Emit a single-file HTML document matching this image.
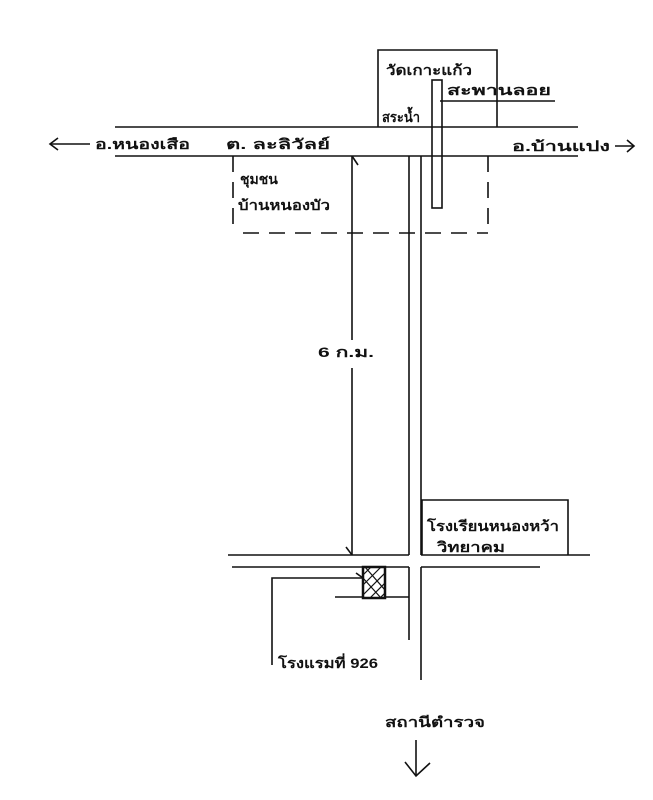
<!DOCTYPE html>
<html><head><meta charset="utf-8"><style>
html,body{margin:0;padding:0;background:#fff;}
svg{display:block;}
text{font-family:"Liberation Sans","Noto Sans CJK SC",sans-serif;fill:#111;font-weight:bold;}
</style></head><body>
<svg width="653" height="800" viewBox="0 0 653 800" xmlns="http://www.w3.org/2000/svg">
<g stroke="#111" stroke-width="1.6" fill="none">
<line x1="115" y1="127" x2="578" y2="127"/>
<line x1="115" y1="156" x2="578" y2="156"/>
<line x1="50" y1="144" x2="90" y2="144"/>
<polyline points="58,138 50,144 58,150"/>
<line x1="615" y1="146" x2="634" y2="146"/>
<polyline points="627,140 634,146 627,152"/>
<polyline points="378,127 378,50 497,50 497,127"/>
<line x1="440" y1="101" x2="555" y2="101"/>
<rect x="432" y="80" width="10" height="128"/>
<line x1="409" y1="156" x2="409" y2="555"/>
<line x1="421" y1="156" x2="421" y2="555"/>
<line x1="409" y1="567" x2="409" y2="640"/>
<line x1="421" y1="567" x2="421" y2="680"/>
<g stroke-dasharray="16,10">
<line x1="233" y1="156" x2="233" y2="228"/>
<line x1="488" y1="156" x2="488" y2="233"/>
<line x1="243" y1="233" x2="488" y2="233"/>
</g>
<line x1="352" y1="156" x2="352" y2="340"/>
<line x1="352" y1="368" x2="352" y2="555"/>
<line x1="352" y1="156" x2="358" y2="165"/>
<line x1="346" y1="547" x2="352" y2="555"/>
<line x1="228" y1="555" x2="409" y2="555"/>
<line x1="421" y1="555" x2="590" y2="555"/>
<line x1="232" y1="567" x2="409" y2="567"/>
<line x1="421" y1="567" x2="540" y2="567"/>
<polyline points="422,555 422,500 568,500 568,555"/>
<polyline points="272,665 272,578 363,578"/>
<line x1="335" y1="597" x2="409" y2="597"/>
<line x1="356" y1="573" x2="363" y2="578"/>
<line x1="416" y1="740" x2="416" y2="776"/>
<polyline points="405,762 416,776 430,763"/>
</g>
<rect x="363" y="567" width="22" height="31" fill="#fff" stroke="#111" stroke-width="2.5"/>
<g stroke="#111" stroke-width="1.2">
<line x1="363" y1="575" x2="371" y2="567"/><line x1="363" y1="585" x2="381" y2="567"/>
<line x1="363" y1="595" x2="385" y2="573"/><line x1="370" y1="598" x2="385" y2="583"/>
<line x1="380" y1="598" x2="385" y2="593"/>
<line x1="365" y1="567" x2="385" y2="590"/><line x1="363" y1="578" x2="381" y2="598"/>
</g>
<g font-size="14">
<text x="95" y="149" textLength="95" lengthAdjust="spacingAndGlyphs">อ.หนองเสือ</text>
<text x="226" y="149" textLength="104" lengthAdjust="spacingAndGlyphs">ต. ละลิวัลย์</text>
<text x="512" y="151" textLength="98" lengthAdjust="spacingAndGlyphs">อ.บ้านแปง</text>
<text x="386" y="75" textLength="86" lengthAdjust="spacingAndGlyphs">วัดเกาะแก้ว</text>
<text x="447" y="95" textLength="104" lengthAdjust="spacingAndGlyphs">สะพานลอย</text>
<text x="382" y="122" textLength="38" lengthAdjust="spacingAndGlyphs">สระน้ำ</text>
<text x="240" y="184">ชุมชน</text>
<text x="238" y="210" textLength="92" lengthAdjust="spacingAndGlyphs">บ้านหนองบัว</text>
<text x="318" y="357" textLength="56" lengthAdjust="spacingAndGlyphs">6 ก.ม.</text>
<text x="427" y="531" textLength="132" lengthAdjust="spacingAndGlyphs">โรงเรียนหนองหว้า</text>
<text x="437" y="552" textLength="68" lengthAdjust="spacingAndGlyphs">วิทยาคม</text>
<text x="278" y="668" textLength="100" lengthAdjust="spacingAndGlyphs">โรงแรมที่ 926</text>
<text x="385" y="727" textLength="100" lengthAdjust="spacingAndGlyphs">สถานีตำรวจ</text>
</g>
</svg>
</body></html>
